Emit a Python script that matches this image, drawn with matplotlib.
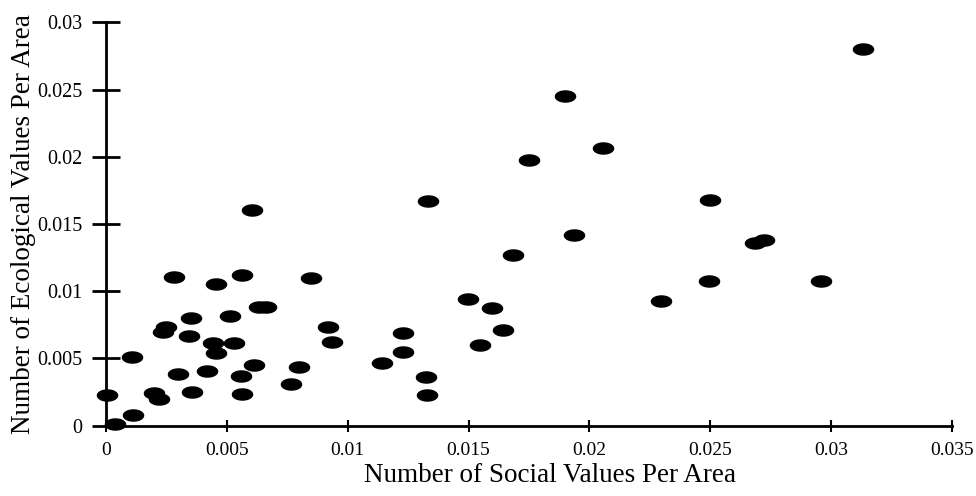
"""
Scatter: ecological vs social values per area (scanned figure reproduction).
"""
import matplotlib
matplotlib.use("Agg")
import matplotlib.pyplot as plt
import numpy as np
from matplotlib.path import Path

# ── data ───────────────────────────────────────────────────────────────────
social = [
    0.00005, 0.00038, 0.00113, 0.00109, 0.00198, 0.00220, 0.00237, 0.00247,
    0.00281, 0.00296, 0.00352, 0.00343, 0.00354, 0.00416, 0.00455, 0.00444,
    0.00455, 0.00512, 0.00530, 0.00560, 0.00564, 0.00562, 0.00612, 0.00634,
    0.00664, 0.00603, 0.00765, 0.00798, 0.00850, 0.00919, 0.00933, 0.01142,
    0.01229, 0.01229, 0.01325, 0.01329, 0.01332, 0.01497, 0.01595, 0.01548,
    0.01642, 0.01684, 0.01750, 0.01900, 0.01938, 0.02055, 0.02296, 0.02494,
    0.02497, 0.02686, 0.02724, 0.02958, 0.03130,
]
ecological = [
    0.00228, 0.00010, 0.00080, 0.00510, 0.00246, 0.00200, 0.00700, 0.00732,
    0.01104, 0.00382, 0.00804, 0.00670, 0.00253, 0.00409, 0.01054, 0.00613,
    0.00543, 0.00816, 0.00618, 0.00370, 0.00236, 0.01121, 0.00454, 0.00881,
    0.00881, 0.01605, 0.00308, 0.00437, 0.01097, 0.00732, 0.00625, 0.00464,
    0.00688, 0.00551, 0.00360, 0.00228, 0.01670, 0.00940, 0.00876, 0.00600,
    0.00710, 0.01270, 0.01977, 0.02453, 0.01417, 0.02066, 0.00928, 0.01079,
    0.01680, 0.01362, 0.01382, 0.01074, 0.02803,
]

x_ticks = [0, 0.005, 0.01, 0.015, 0.02, 0.025, 0.03, 0.035]
x_tick_labels = ["0", "0.005", "0.01", "0.015", "0.02", "0.025", "0.03", "0.035"]
y_ticks = [0, 0.005, 0.01, 0.015, 0.02, 0.025, 0.03]
y_tick_labels = ["0", "0.005", "0.01", "0.015", "0.02", "0.025", "0.03"]

# ── style ──────────────────────────────────────────────────────────────────
plt.rcParams["font.family"] = ["Liberation Serif", "DejaVu Serif"]
INK = "#000000"

# flattened ellipse marker like the original scan
t = np.linspace(0, 2 * np.pi, 60)
ELLIPSE = Path(np.column_stack([np.cos(t), 0.55 * np.sin(t)]), closed=True)

# ── plot ───────────────────────────────────────────────────────────────────
fig = plt.figure(figsize=(9.76, 4.96), dpi=100)
ax = fig.add_axes([0.1086, 0.1417, 0.8668, 0.8133])

ax.plot(social, ecological, linestyle="none", marker=ELLIPSE,
        markersize=14.5, color=INK, clip_on=False, zorder=3)

ax.set_xlim(0, 0.035)
ax.set_ylim(0, 0.03)
ax.set_xticks(x_ticks)
ax.set_xticklabels(x_tick_labels)
ax.set_yticks(y_ticks)
ax.set_yticklabels(y_tick_labels)

ax.spines[["top", "right"]].set_visible(False)
for side in ("left", "bottom"):
    ax.spines[side].set_linewidth(2)
    ax.spines[side].set_color(INK)

ax.tick_params(axis="y", direction="inout", length=20, width=2,
               labelsize=14.5, pad=7, colors=INK)
ax.tick_params(axis="x", direction="inout", length=8, width=1.5,
               labelsize=14, pad=8, colors=INK)

ax.set_xlabel("Number of Social Values Per Area", fontsize=19.5, color=INK)
ax.set_ylabel("Number of Ecological Values Per Area", fontsize=19.5, color=INK)
ax.xaxis.set_label_coords(0.525, -0.093)
ax.yaxis.set_label_coords(-0.083, 0.5)

fig.savefig("out.png", dpi=100, facecolor="white")
